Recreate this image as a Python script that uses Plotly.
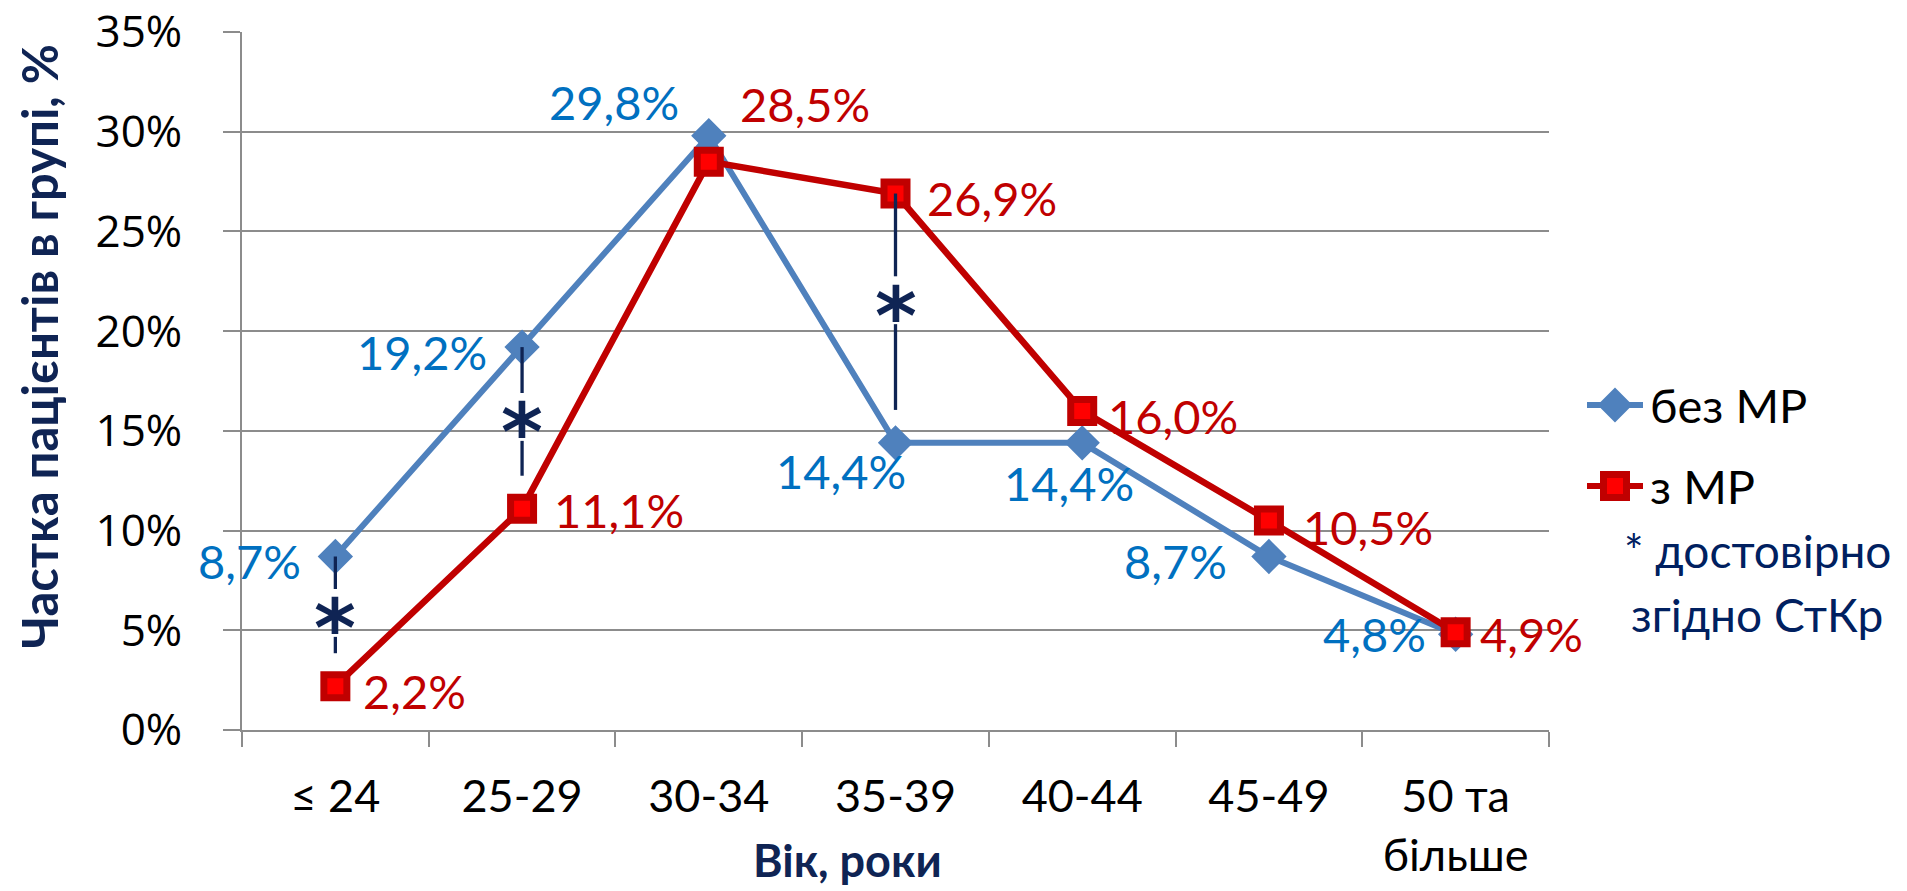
import plotly.graph_objects as go

W, H = 1907, 891

# ---- data ----
age_groups = ["≤ 24", "25-29", "30-34", "35-39", "40-44", "45-49", "50 та<br>більше"]
without_mr = [8.7, 19.2, 29.8, 14.4, 14.4, 8.7, 4.8]   # без МР
with_mr = [2.2, 11.1, 28.5, 26.9, 16.0, 10.5, 4.9]     # з МР
y_ticks = [0, 5, 10, 15, 20, 25, 30, 35]
y_tick_labels = [f"{v}%" for v in y_ticks]
significant_groups = ["≤ 24", "25-29", "35-39"]

# ---- styling ----
BLUE_LINE = "#4F81BD"
BLUE_TEXT = "#0070C0"
RED_LINE = "#C00000"
RED_FILL = "#FF0000"
NAVY = "#0F2454"
GRID = "#8C8C8C"
FONT = "Lato, 'Open Sans', sans-serif"


def px_x(px):
    return px / W


def px_y(py):
    return 1 - py / H


def fmt(v):
    return f"{v:.1f}%".replace(".", ",")


# label offsets (xshift, yshift, anchor) per point
blue_label_pos = [(-32, -4, "right"), (-33, -5, "right"), (-28, 34, "right"),
                  (12, -28, "right"), (-13, -40, "center"), (-40, -4, "right"),
                  (-28, 0, "right")]
red_label_pos = [(26, -5, "left"), (30, -1, "left"), (29, 58, "left"),
                 (29, -4, "left"), (24, -5, "left"), (32, -6, "left"),
                 (22, -2, "left")]

fig = go.Figure()

fig.add_trace(go.Scatter(
    x=age_groups, y=without_mr, mode="lines+markers", name="без МР",
    line=dict(color=BLUE_LINE, width=6),
    marker=dict(symbol="diamond", size=25, color=BLUE_LINE,
                line=dict(color=BLUE_LINE, width=2)),
    showlegend=False, cliponaxis=False,
))
fig.add_trace(go.Scatter(
    x=age_groups, y=with_mr, mode="lines+markers", name="з МР",
    line=dict(color=RED_LINE, width=6.5),
    marker=dict(symbol="square", size=23, color=RED_FILL,
                line=dict(color=RED_LINE, width=7)),
    showlegend=False, cliponaxis=False,
))

annotations = []
shapes = []

for cat, v, (dx, dy, anc) in zip(age_groups, without_mr, blue_label_pos):
    annotations.append(dict(x=cat, y=v, xref="x", yref="y", text=fmt(v),
                            showarrow=False, xanchor=anc, yanchor="middle",
                            xshift=dx, yshift=dy,
                            font=dict(family=FONT, size=47, color=BLUE_TEXT)))
for cat, v, (dx, dy, anc) in zip(age_groups, with_mr, red_label_pos):
    annotations.append(dict(x=cat, y=v, xref="x", yref="y", text=fmt(v),
                            showarrow=False, xanchor=anc, yanchor="middle",
                            xshift=dx, yshift=dy,
                            font=dict(family=FONT, size=47, color=RED_LINE)))

# significance markers: dashed connector with an asterisk between the series
for cat in significant_groups:
    i = age_groups.index(cat)
    top = max(without_mr[i], with_mr[i])
    bot = min(without_mr[i], with_mr[i])
    star = top - 0.42 * (top - bot)
    shapes.append(dict(type="line", xref="x", yref="y", x0=cat, x1=cat,
                       y0=top, y1=star + 1.1, line=dict(color=NAVY, width=3.3)))
    shapes.append(dict(type="line", xref="x", yref="y", x0=cat, x1=cat,
                       y0=star - 1.3, y1=bot + 1.65, line=dict(color=NAVY, width=3.3)))
    annotations.append(dict(x=cat, y=star, xref="x", yref="y", text="<b>*</b>",
                            showarrow=False, xanchor="center", yanchor="middle",
                            yshift=-18,
                            font=dict(family="'DejaVu Sans', sans-serif", size=80,
                                      color=NAVY)))

# legend keys
for cy, kind in [(405, "diamond"), (486, "square")]:
    color = BLUE_LINE if kind == "diamond" else RED_LINE
    shapes.append(dict(type="line", xref="paper", yref="paper",
                       x0=px_x(1587), x1=px_x(1643), y0=px_y(cy), y1=px_y(cy),
                       line=dict(color=color, width=6)))
    if kind == "diamond":
        cx, r = 1615, 16
        path = (f"M{px_x(cx - r)},{px_y(cy)} L{px_x(cx)},{px_y(cy - r)} "
                f"L{px_x(cx + r)},{px_y(cy)} L{px_x(cx)},{px_y(cy + r)} Z")
        shapes.append(dict(type="path", xref="paper", yref="paper", path=path,
                           fillcolor=BLUE_LINE, line=dict(color=BLUE_LINE, width=2)))
    else:
        cx, r = 1615, 11.5
        shapes.append(dict(type="rect", xref="paper", yref="paper",
                           x0=px_x(cx - r), x1=px_x(cx + r),
                           y0=px_y(cy + r), y1=px_y(cy - r),
                           fillcolor=RED_FILL, line=dict(color=RED_LINE, width=7)))

annotations += [
    dict(x=px_x(1648), y=px_y(405), xref="paper", yref="paper", text="без МР",
         showarrow=False, xanchor="left", yanchor="middle",
         font=dict(family=FONT, size=47, color="black")),
    dict(x=px_x(1648), y=px_y(486), xref="paper", yref="paper", text="з МР",
         showarrow=False, xanchor="left", yanchor="middle",
         font=dict(family=FONT, size=47, color="black")),
    dict(x=px_x(1757), y=px_y(550), xref="paper", yref="paper", text="* достовірно",
         showarrow=False, xanchor="center", yanchor="middle",
         font=dict(family=FONT, size=46, color="#002060")),
    dict(x=px_x(1757), y=px_y(614), xref="paper", yref="paper", text="згідно СтКр",
         showarrow=False, xanchor="center", yanchor="middle",
         font=dict(family=FONT, size=46, color="#002060")),
    dict(x=px_x(39), y=px_y(347), xref="paper", yref="paper",
         text="<b>Частка пацієнтів в групі, %</b>", textangle=-90,
         showarrow=False, xanchor="center", yanchor="middle",
         font=dict(family=FONT, size=49, color=NAVY)),
    dict(x=px_x(847), y=px_y(860), xref="paper", yref="paper",
         text="<b>Вік, роки</b>",
         showarrow=False, xanchor="center", yanchor="middle",
         font=dict(family=FONT, size=45, color=NAVY)),
]

fig.update_layout(
    width=W, height=H,
    margin=dict(l=0, r=0, t=0, b=0, autoexpand=False),
    paper_bgcolor="white", plot_bgcolor="white",
    showlegend=False,
    annotations=annotations,
    shapes=shapes,
    xaxis=dict(
        domain=[px_x(242), px_x(1549)], automargin=False,
        type="category", categoryorder="array", categoryarray=age_groups,
        range=[-0.5, len(age_groups) - 0.5],
        tickson="boundaries", ticks="outside", ticklen=15, tickwidth=2,
        tickcolor=GRID, showline=True, linecolor=GRID, linewidth=2,
        showgrid=False, zeroline=False,
        tickfont=dict(family=FONT, size=45, color="black"),
        ticklabelstandoff=26,
    ),
    yaxis=dict(
        domain=[px_y(730), px_y(32)], automargin=False,
        range=[0, 35], tickvals=y_ticks, ticktext=y_tick_labels,
        showgrid=True, gridcolor=GRID, gridwidth=2,
        ticks="outside", ticklen=17, tickwidth=2, tickcolor=GRID,
        showline=True, linecolor=GRID, linewidth=2, zeroline=False,
        tickfont=dict(family="'Open Sans', sans-serif", size=44, color="black"),
        ticklabelstandoff=32,
    ),
)

fig.write_html("out.html")
